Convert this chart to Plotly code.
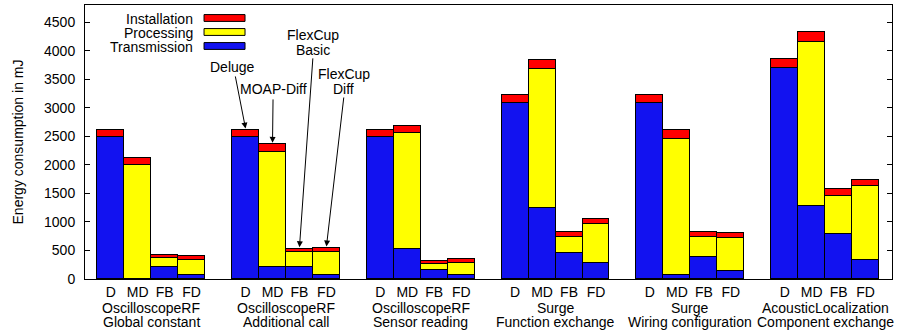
import plotly.graph_objects as go

# ---- data ----
groups_line1 = ["OscilloscopeRF", "OscilloscopeRF", "OscilloscopeRF", "Surge", "Surge", "AcousticLocalization"]
groups_line2 = ["Global constant", "Additional call", "Sensor reading", "Function exchange",
                "Wiring configuration", "Component exchange"]
systems = ["D", "MD", "FB", "FD"]

# values per system, one entry per scenario group (mJ)
transmission = {
    "D":  [2490, 2490, 2490, 3080, 3080, 3690],
    "MD": [5, 210, 520, 1250, 65, 1275],
    "FB": [210, 210, 150, 463, 381, 797],
    "FD": [65, 77, 65, 288, 135, 333],
}
processing = {
    "D":  [0, 0, 0, 0, 0, 0],
    "MD": [1985, 2015, 2032, 2433, 2392, 2873],
    "FB": [153, 263, 120, 281, 363, 654],
    "FD": [269, 403, 223, 677, 592, 1289],
}
installation = {
    "D":  [120, 120, 115, 141, 141, 158],
    "MD": [128, 135, 128, 152, 153, 175],
    "FB": [53, 59, 53, 88, 88, 118],
    "FD": [64, 65, 58, 83, 87, 115],
}
y_ticks = [0, 500, 1000, 1500, 2000, 2500, 3000, 3500, 4000, 4500]

series_names = ["Transmission", "Processing", "Installation"]
series_colors = {"Transmission": "#1212f0", "Processing": "#ffff00", "Installation": "#ff0000"}
series_data = {"Transmission": transmission, "Processing": processing, "Installation": installation}

# bar slots: 4 bars per group + one empty slot
xs, labels = [], []
for g in range(len(groups_line1)):
    for k, s in enumerate(systems):
        xs.append(g * 5 + k)
        labels.append(s)

def flat(d):
    out = []
    for g in range(len(groups_line1)):
        for s in systems:
            out.append(d[s][g])
    return out

FONT = "Liberation Sans, Arial, sans-serif"
fig = go.Figure()
for name in series_names:
    fig.add_trace(go.Bar(
        x=xs, y=flat(series_data[name]), name=name, width=1,
        marker=dict(color=series_colors[name], line=dict(color="black", width=1)),
        showlegend=False,
    ))

totals = [a + b + c for a, b, c in zip(flat(transmission), flat(processing), flat(installation))]

fig.update_layout(
    barmode="stack", bargap=0,
    width=897, height=334,
    margin=dict(l=85, r=5, t=5, b=55),
    plot_bgcolor="white", paper_bgcolor="white",
    font=dict(family=FONT, size=14, color="black"),
)
fig.update_xaxes(
    range=[-0.956, 28.98], tickmode="array", tickvals=xs, ticktext=labels,
    showline=True, linecolor="black", linewidth=1, mirror=True,
    ticks="", showgrid=False, zeroline=False, tickfont=dict(size=14),
    automargin=False,
)
fig.update_yaxes(
    range=[0, 4800], tickmode="array", tickvals=y_ticks,
    showline=True, linecolor="black", linewidth=1, mirror="ticks",
    ticks="inside", ticklen=5, tickcolor="black", showgrid=False, zeroline=False,
    ticklabelstandoff=6, automargin=False,
    title=dict(text="Energy consumption in mJ", font=dict(size=14), standoff=17),
)

ann = []
# group labels under the axis
for g in range(len(groups_line1)):
    cx = g * 5 + 1.5
    ann.append(dict(x=cx, xref="x", y=-0.105, yref="paper", text=groups_line1[g],
                    showarrow=False, xanchor="center", yanchor="middle", font=dict(size=14)))
    ann.append(dict(x=cx, xref="x", y=-0.157, yref="paper", text=groups_line2[g],
                    showarrow=False, xanchor="center", yanchor="middle", font=dict(size=14)))

# arrows pointing to the bars of the second group
arrow_specs = [
    # (bar index, tail x, tail y, text lines, text x, text y list)
    (4, 4.61, 3575, ["Deluge"], 4.515, [3720]),
    (5, 6.02, 3172, ["MOAP-Diff"], 6.02, [3335]),
    (6, 7.50, 3891, ["FlexCup", "Basic"], 7.50, [4270, 4010]),
    (7, 8.65, 3206, ["FlexCup", "Diff"], 8.65, [3600, 3330]),
]
for bi, tx, ty, lines, lx, lys in arrow_specs:
    ann.append(dict(x=xs[bi], y=totals[bi] + 25, xref="x", yref="y",
                    ax=tx, ay=ty, axref="x", ayref="y", text="",
                    showarrow=True, arrowhead=2, arrowsize=1.2, arrowwidth=1, arrowcolor="black"))
    for line, ly in zip(lines, lys):
        ann.append(dict(x=lx, y=ly, xref="x", yref="y", text=line, showarrow=False,
                        xanchor="center", yanchor="middle", font=dict(size=14)))

# manual legend (text left of swatch)
leg_y = [0.9526, 0.9015, 0.8504]
leg_names = ["Installation", "Processing", "Transmission"]
shapes = []
for name, yc in zip(leg_names, leg_y):
    ann.append(dict(x=0.1363, y=yc - 0.004, xref="paper", yref="paper", text=name, showarrow=False,
                    xanchor="right", yanchor="middle", font=dict(size=14)))
    shapes.append(dict(type="rect", xref="paper", yref="paper", x0=0.1475, x1=0.1983,
                       y0=yc - 0.0125, y1=yc + 0.0125,
                       fillcolor=series_colors[name], line=dict(color="black", width=1)))

fig.update_layout(annotations=ann, shapes=shapes)
fig.write_html(
    "out.html",
    config={"displayModeBar": False},
    post_script="document.body.style.margin='0px';document.body.style.overflow='hidden';",
)
